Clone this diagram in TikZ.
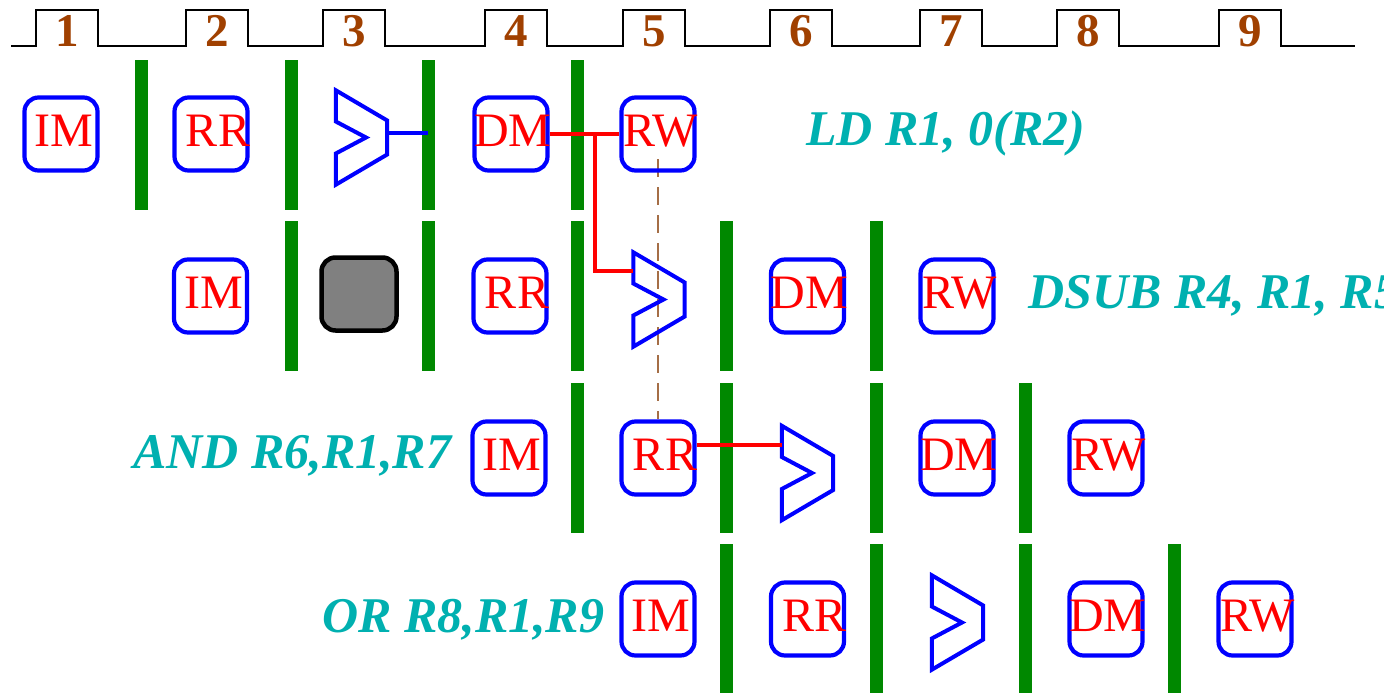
\documentclass[tikz,border=0pt]{standalone}
\usepackage{fontspec}
\setmainfont{Liberation Serif}
\newfontfamily\tnr{Liberation Serif}
\usetikzlibrary{calc}
\definecolor{pgreen}{RGB}{0,136,0}
\definecolor{instrc}{RGB}{0,176,176}
\definecolor{clkc}{RGB}{160,64,0}
\definecolor{dashc}{RGB}{165,110,70}
\tikzset{
  stagebox/.style={draw=blue, line width=4.2pt, rounded corners=14pt, minimum width=73pt, minimum height=73pt, inner sep=0pt},
  bubble/.style={draw=black, fill=gray, line width=4.5pt, rounded corners=14pt, minimum width=75pt, minimum height=73pt, inner sep=0pt},
  stagetxt/.style={text=red, font=\tnr\fontsize{48}{50}\selectfont, inner sep=0pt, anchor=base},
  latch/.style={fill=pgreen, minimum width=13pt, minimum height=150pt, inner sep=0pt},
  alubox/.style={minimum width=51pt, minimum height=94pt, inner sep=0pt},
  aluline/.style={draw=blue, line width=4pt, line join=miter},
  redline/.style={draw=red, line width=4pt},
  blueline/.style={draw=blue, line width=4pt},
  dashline/.style={draw=dashc, line width=1.3pt, dash pattern=on 18pt off 10pt},
  instr/.style={text=instrc, font=\tnr\fontsize{50}{52}\selectfont\bfseries\itshape, inner sep=0pt, anchor=base west},
  digit/.style={text=clkc, font=\tnr\fontsize{47}{49}\selectfont\bfseries, inner sep=0pt, anchor=base},
  clockline/.style={draw=black, line width=2.5pt, line join=miter}
}
\newcommand\stg[5]{%
  \node[stagebox] (#1) at (#2,#3) {};
  \node[stagetxt] (#1t) at ($(#1.center)+(#5,12.5)$) {#4};}
\newcommand\alu[3]{%
  \node[alubox] (#1) at (#2,#3) {};
  \draw[aluline] (#1.north west) -- ($(#1.east)+(0,-17)$) -- ($(#1.east)+(0,17)$) -- (#1.south west) -- ($(#1.west)+(0,16)$) -- ($(#1.center)+(4.5,0)$) -- ($(#1.west)+(0,-16)$) -- cycle;}
\begin{document}
\begin{tikzpicture}[x=1pt,y=-1pt]
\useasboundingbox (0,0) rectangle (1395,693);
% clock
\draw[clockline] (11,46) foreach \x in {36,186,323,485,623,770,920,1057,1219} { -- (\x,46) -- (\x,10) -- (\x+62,10) -- (\x+62,46) } -- (1355,46);
\foreach \x/\n in {36/1,186/2,323/3,485/4,623/5,770/6,920/7,1057/8,1219/9}
  \node[digit] (d\n) at (\x+31,47) {\n};
% latches
\foreach \x/\i in {141/1,291/2,428/3,577/4} \node[latch] (r1b\i) at (\x,135) {};
\foreach \x/\i in {291/1,428/2,577/3,726/4,876/5} \node[latch] (r2b\i) at (\x,296) {};
\foreach \x/\i in {577/1,726/2,876/3,1025/4} \node[latch] (r3b\i) at (\x,458) {};
\foreach \x/\i in {726/1,876/2,1025/3,1174/4} \node[latch] (r4b\i) at (\x,618.5) {};
% dashed line (drawn first, under boxes)
\node[stagebox, draw=none] (rw1h) at (658,134) {};
\node[stagebox, draw=none] (rr3h) at (658,458) {};
\draw[dashline] ($(rw1h.center)+(0,25)$) -- (rr3h.north);
% row 1
\stg{im1}{61}{134}{IM}{3}
\stg{rr1}{211}{134}{RR}{7}
\alu{a1}{361.5}{137.5}
\stg{dm1}{511}{134}{DM}{2}
\stg{rw1}{658}{134}{RW}{2.5}
% row 2
\stg{im2}{210.5}{296}{IM}{3}
\node[bubble] (g2) at (359,294) {};
\stg{rr2}{510}{296}{RR}{7}
\alu{a2}{659}{299.5}
\stg{dm2}{807.5}{296}{DM}{2}
\stg{rw2}{957}{296}{RW}{2.5}
% row 3
\stg{im3}{509}{458}{IM}{3}
\stg{rr3}{658}{458}{RR}{7}
\alu{a3}{807.5}{473}
\stg{dm3}{957}{458}{DM}{2}
\stg{rw3}{1106}{458}{RW}{2.5}
% row 4
\stg{im4}{658}{619}{IM}{3}
\stg{rr4}{807.5}{619}{RR}{7}
\alu{a4}{957.5}{622.5}
\stg{dm4}{1106}{619}{DM}{2}
\stg{rw4}{1255}{619}{RW}{2.5}
% connectors
\coordinate (p1) at ($(a1.east)+(0,-4.5)$);
\draw[blueline] (p1) -- (p1 -| r1b3.center);
\coordinate (j1) at (595,134);
\draw[redline] (dm1.east) -- (rw1.west);
\draw[redline] (j1) |- ($(a2.west)+(0,-28.5)$);
\draw[redline] ($(rr3.east)+(0,-13)$) -- ($(a3.west)+(0,-28)$);
% instruction labels
\node[instr] (i1) at (806,145) {LD R1, 0(R2)};
\begin{scope}
\clip (0,0) rectangle (1383,693);
\node[instr] (i2) at (1028,308) {DSUB R4, R1, R5};
\end{scope}
\node[instr] (i3) at (133,468) {AND R6,R1,R7};
\node[instr] (i4) at (322,632) {OR R8,R1,R9};
\end{tikzpicture}
\end{document}
